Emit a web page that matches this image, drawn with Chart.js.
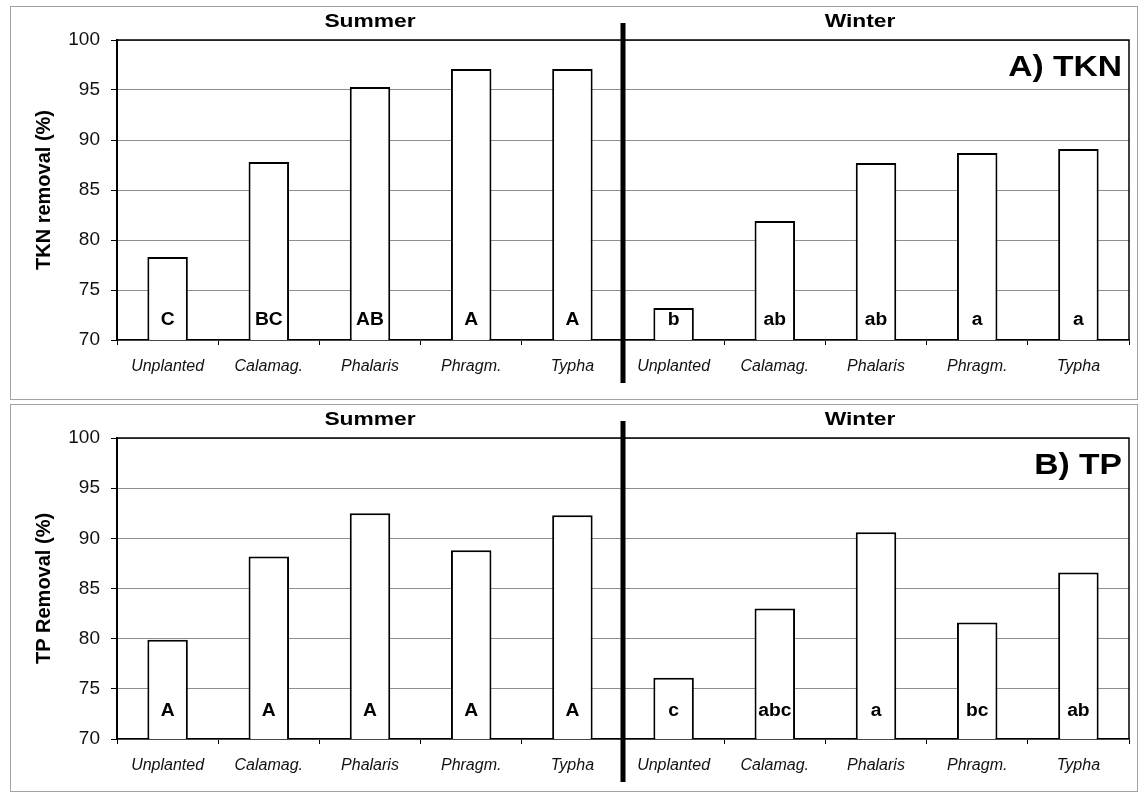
<!DOCTYPE html>
<html>
<head>
<meta charset="utf-8">
<script src="https://cdn.jsdelivr.net/npm/chart.js@4.4.1/dist/chart.umd.min.js"></script>
<style>
  html, body { margin: 0; padding: 0; background: #fff; }
  body { width: 1143px; height: 794px; position: relative; overflow: hidden; }
  .frame { position: absolute; border: 1.5px solid #a3a3a3; box-sizing: border-box; }
  .wrap { position: absolute; left: 0; width: 1143px; }
  canvas { display: block; }
</style>
</head>
<body>
<div class="frame" style="left:10px;top:6px;width:1128px;height:394px"></div>
<div class="frame" style="left:10px;top:404px;width:1128px;height:388px"></div>
<div class="wrap" style="top:0;height:400px"><canvas id="tkn" width="1143" height="400"></canvas></div>
<div class="wrap" style="top:400px;height:394px"><canvas id="tp" width="1143" height="394"></canvas></div>

<script>
// Wetland species (same order in both seasons)
const species = ['Unplanted', 'Calamag.', 'Phalaris', 'Phragm.', 'Typha'];
const seasons = ['Summer', 'Winter'];

// Total Kjeldahl nitrogen removal (%)
const tknSummer = [78.3, 87.8, 95.3, 97.1, 97.1];
const tknWinter = [73.2, 81.9, 87.7, 88.7, 89.1];
const tknGroups = ['C', 'BC', 'AB', 'A', 'A', 'b', 'ab', 'ab', 'a', 'a'];

// Total phosphorus removal (%)
const tpSummer = [79.9, 88.2, 92.5, 88.8, 92.3];
const tpWinter = [76.1, 83.0, 90.6, 81.6, 86.6];
const tpGroups = ['A', 'A', 'A', 'A', 'A', 'c', 'abc', 'a', 'bc', 'ab'];

// Removal axis
const yMin = 70, yMax = 100, yStep = 5;

const FONT = '"Liberation Sans", Arial, Helvetica, sans-serif';

// Text drawn with a slight horizontal stretch
function wideText(ctx, text, x, y, font, sx, align) {
  ctx.save();
  ctx.font = font;
  ctx.textBaseline = 'middle';
  ctx.textAlign = align || 'center';
  ctx.translate(x, y);
  ctx.scale(sx, 1);
  ctx.fillText(text, 0, 0);
  ctx.restore();
}

// Plot frame, season divider, season headings, group letters and panel tag
const panelDecor = {
  id: 'panelDecor',
  afterDraw(chart, args, opts) {
    const { ctx, chartArea: a, scales: { x } } = chart;
    ctx.save();
    ctx.strokeStyle = '#000';
    ctx.fillStyle = '#000';

    // top and right edges of the plot area
    ctx.lineWidth = 1.5;
    ctx.beginPath();
    ctx.moveTo(a.left, a.top);
    ctx.lineTo(a.right, a.top);
    ctx.lineTo(a.right, a.bottom);
    ctx.stroke();

    // heavy divider between the summer and winter groups
    const xd = (x.getPixelForValue(4) + x.getPixelForValue(5)) / 2;
    ctx.lineWidth = 5;
    ctx.beginPath();
    ctx.moveTo(xd, a.top - 17);
    ctx.lineTo(xd, a.bottom + 43);
    ctx.stroke();

    // season headings
    const cs = (x.getPixelForValue(0) + x.getPixelForValue(4)) / 2;
    const cw = (x.getPixelForValue(5) + x.getPixelForValue(9)) / 2 - 16;
    wideText(ctx, seasons[0], cs, a.top - 18, 'bold 19px ' + FONT, 1.2);
    wideText(ctx, seasons[1], cw, a.top - 18, 'bold 19px ' + FONT, 1.2);

    // significance letters inside the bars
    opts.letters.forEach((t, i) => {
      wideText(ctx, t, x.getPixelForValue(i), a.bottom - opts.letterLift, 'bold 18px ' + FONT, 1.07);
    });

    // panel tag
    wideText(ctx, opts.tag, a.right - 7, a.top + 28, 'bold 30px ' + FONT, 1.12, 'right');
    ctx.restore();
  }
};

function makePanel(id, summer, winter, groups, yTitle, tag, pad, axisH, letterLift) {
  const labels = species.concat(species);
  const values = summer.concat(winter);
  return new Chart(document.getElementById(id), {
    type: 'bar',
    data: {
      labels: labels,
      datasets: [{
        data: values,
        backgroundColor: '#ffffff',
        borderColor: '#000000',
        borderWidth: 2,
        barPercentage: 0.4,
        categoryPercentage: 1.0
      }]
    },
    options: {
      responsive: false,
      animation: false,
      layout: { padding: { top: pad, right: 14, left: 0, bottom: 0 } },
      plugins: {
        legend: { display: false },
        tooltip: { enabled: false },
        panelDecor: { letters: groups, tag: tag, letterLift: letterLift }
      },
      scales: {
        x: {
          offset: true,
          grid: { display: true, drawOnChartArea: false, offset: true, tickLength: 5, color: '#000', lineWidth: 1 },
          border: { display: true, color: '#000', width: 1.5 },
          ticks: {
            font: { family: FONT, size: 16, style: 'italic' },
            color: '#111',
            padding: 12,
            maxRotation: 0,
            autoSkip: false
          },
          afterFit(s) { s.height = axisH; }
        },
        y: {
          min: yMin,
          max: yMax,
          ticks: {
            stepSize: yStep,
            font: { family: FONT, size: 19 },
            color: '#111',
            padding: 11
          },
          grid: { color: '#8e8e8e', lineWidth: 1, tickLength: 6, tickColor: '#000' },
          border: { display: true, color: '#000', width: 2 },
          title: {
            display: true,
            text: yTitle,
            color: '#000',
            font: { family: FONT, size: 20, weight: 'bold' },
            padding: { top: 32, bottom: 0 }
          },
          afterFit(s) { s.width = 117; }
        }
      }
    },
    plugins: [panelDecor]
  });
}

makePanel('tkn', tknSummer, tknWinter, tknGroups, 'TKN removal (%)', 'A) TKN', 40, 60, 20);
makePanel('tp', tpSummer, tpWinter, tpGroups, 'TP Removal (%)', 'B) TP', 38, 55, 28);
</script>
</body>
</html>
